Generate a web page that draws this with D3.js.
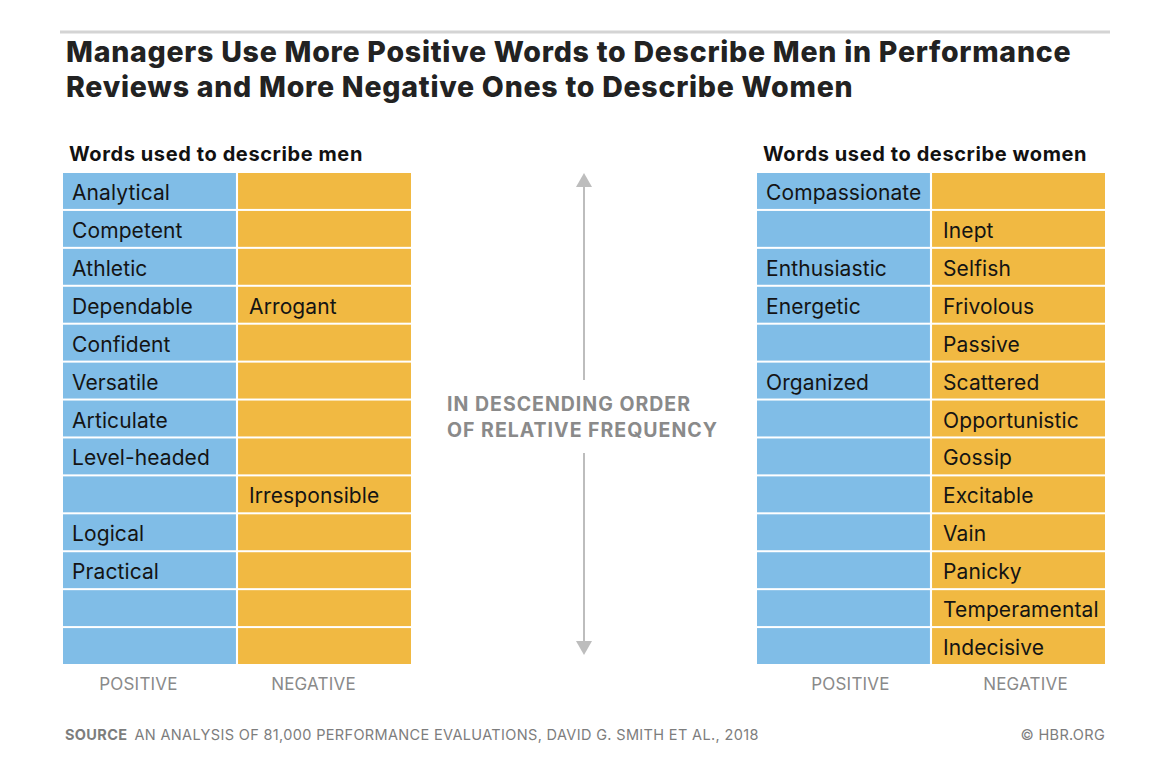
<!DOCTYPE html>
<html>
<head>
<meta charset="utf-8">
<script src="https://cdn.jsdelivr.net/npm/d3@7"></script>
<style>
  body { margin: 0; background: #fff; }
  svg { display: block; font-family: Inter, "Noto Sans", sans-serif; }
</style>
</head>
<body>
<div id="chart"></div>
<script>
const width = 1170;
const height = 761;

const titleLines = [
  "Managers Use More Positive Words to Describe Men in Performance",
  "Reviews and More Negative Ones to Describe Women"
];
const columns = ["POSITIVE", "NEGATIVE"];

// rows are in descending order of relative frequency
const menPositive = ["Analytical", "Competent", "Athletic", "Dependable", "Confident", "Versatile",
  "Articulate", "Level-headed", "", "Logical", "Practical", "", ""];
const menNegative = ["", "", "", "Arrogant", "", "", "", "", "Irresponsible", "", "", "", ""];
const womenPositive = ["Compassionate", "", "Enthusiastic", "Energetic", "", "Organized",
  "", "", "", "", "", "", ""];
const womenNegative = ["", "Inept", "Selfish", "Frivolous", "Passive", "Scattered", "Opportunistic",
  "Gossip", "Excitable", "Vain", "Panicky", "Temperamental", "Indecisive"];

const panels = [
  { title: "Words used to describe men", x0: 63, x1: 411, labelShift: -11, values: [menPositive, menNegative] },
  { title: "Words used to describe women", x0: 757, x1: 1105, labelShift: 7, values: [womenPositive, womenNegative] }
];

const colors = { POSITIVE: "#80bde7", NEGATIVE: "#f1b942" };
const rowTop = 173, rowBottom = 662;

const svg = d3.create("svg")
  .attr("width", width)
  .attr("height", height)
  .attr("viewBox", `0 0 ${width} ${height}`);

svg.append("rect").attr("width", width).attr("height", height).attr("fill", "#fff");

// top rule
svg.append("line")
  .attr("x1", 60).attr("x2", 1110)
  .attr("y1", 32).attr("y2", 32)
  .attr("stroke", "#d4d4d4").attr("stroke-width", 3);

svg.append("g")
  .selectAll("text")
  .data(titleLines)
  .join("text")
  .attr("x", 66)
  .attr("y", (d, i) => 62 + i * 35)
  .attr("font-size", 28.5)
  .attr("font-weight", 800)
  .attr("fill", "#222")
  .attr("letter-spacing", 0.75)
  .text(d => d);

const nRows = menPositive.length;
const y = d3.scaleBand()
  .domain(d3.range(nRows))
  .range([rowTop, rowBottom + 2])
  .paddingInner(0.053)
  .paddingOuter(0);

panels.forEach(p => {
  const x = d3.scaleBand()
    .domain(columns)
    .range([p.x0, p.x1])
    .paddingInner(0.012)
    .paddingOuter(0);

  const g = svg.append("g");

  g.append("text")
    .attr("x", p.x0 + 6)
    .attr("y", 161)
    .attr("font-size", 20)
    .attr("font-weight", 700)
    .attr("letter-spacing", 0.6)
    .attr("fill", "#111")
    .text(p.title);

  columns.forEach((col, ci) => {
    const cells = p.values[ci].map((word, i) => ({ word, i }));
    const cg = g.append("g");
    cg.selectAll("rect")
      .data(cells)
      .join("rect")
      .attr("x", x(col))
      .attr("y", d => y(d.i))
      .attr("width", x.bandwidth())
      .attr("height", y.bandwidth())
      .attr("fill", colors[col]);

    cg.selectAll("text")
      .data(cells.filter(d => d.word))
      .join("text")
      .attr("x", x(col) + (ci === 0 ? 9 : 11))
      .attr("y", d => y(d.i) + y.bandwidth() / 2 + 9)
      .attr("font-size", 21)
      .attr("letter-spacing", 0.1)
      .attr("fill", "#141414")
      .text(d => d.word);

    g.append("text")
      .attr("x", x(col) + x.bandwidth() / 2 + p.labelShift)
      .attr("y", 690)
      .attr("text-anchor", "middle")
      .attr("font-size", 17)
      .attr("letter-spacing", 0.2)
      .attr("fill", "#8a8a8a")
      .text(col);
  });
});

// middle arrow and note
const ax = 584;
const arrow = svg.append("g").attr("fill", "#bdbdbd").attr("stroke", "#bdbdbd");
arrow.append("line").attr("x1", ax).attr("x2", ax).attr("y1", 182).attr("y2", 380).attr("stroke-width", 2);
arrow.append("line").attr("x1", ax).attr("x2", ax).attr("y1", 453).attr("y2", 646).attr("stroke-width", 2);
arrow.append("path").attr("stroke", "none").attr("d", `M${ax - 8},187 L${ax},173 L${ax + 8},187 Z`);
arrow.append("path").attr("stroke", "none").attr("d", `M${ax - 8},641 L${ax},655 L${ax + 8},641 Z`);

svg.append("g")
  .selectAll("text")
  .data(["IN DESCENDING ORDER", "OF RELATIVE FREQUENCY"])
  .join("text")
  .attr("x", 447)
  .attr("y", (d, i) => 411 + i * 26)
  .attr("font-size", 19.5)
  .attr("font-weight", 700)
  .attr("letter-spacing", 1)
  .attr("fill", "#8a8a8a")
  .text(d => d);

// footer
const src = svg.append("text")
  .attr("x", 65)
  .attr("y", 740)
  .attr("font-size", 14.5)
  .attr("letter-spacing", 0.35)
  .attr("fill", "#7d7d7d");
src.append("tspan").attr("font-weight", 700).text("SOURCE");
src.append("tspan").attr("dx", 7).text("AN ANALYSIS OF 81,000 PERFORMANCE EVALUATIONS, DAVID G. SMITH ET AL., 2018");

svg.append("text")
  .attr("x", 1105)
  .attr("y", 740)
  .attr("text-anchor", "end")
  .attr("font-size", 14.5)
  .attr("letter-spacing", 0.3)
  .attr("fill", "#7d7d7d")
  .text("© HBR.ORG");

d3.select("#chart").append(() => svg.node());
</script>
</body>
</html>
